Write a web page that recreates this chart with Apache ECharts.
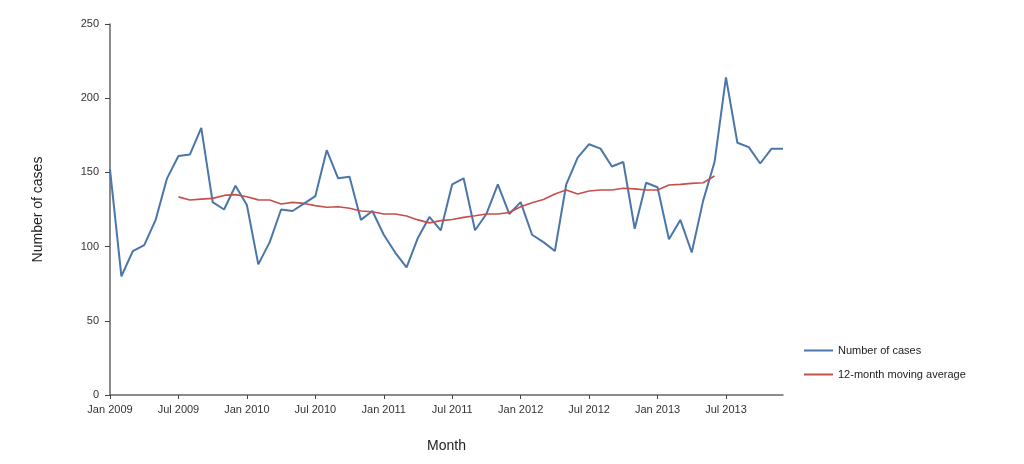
<!DOCTYPE html>
<html>
<head>
<meta charset="utf-8">
<script src="https://cdn.jsdelivr.net/npm/echarts@6/dist/echarts.min.js"></script>
<style>html,body{margin:0;padding:0;background:#fff;}#c{width:1024px;height:464px;}</style>
</head>
<body>
<div id="c"></div>
<script>
const monthNames = ['Jan','Feb','Mar','Apr','May','Jun','Jul','Aug','Sep','Oct','Nov','Dec'];
const years = [2009, 2010, 2011, 2012, 2013];
const months = [];
years.forEach(y => monthNames.forEach(m => months.push(m + ' ' + y)));

const cases = [
  152, 80, 97, 101, 118, 146, 161, 162, 180, 130, 125, 141,
  128, 88, 103, 125, 124, 129, 134, 165, 146, 147, 118, 124,
  108, 96, 86, 106, 120, 111, 142, 146, 111, 122, 142, 122,
  130, 108, 103, 97, 142, 160, 169, 166, 154, 157, 112, 143,
  140, 105, 118, 96, 131, 157, 214, 170, 167, 156, 166, 166
];

const movingAvg = [
  null, null, null, null, null, null, 133.5, 131.4, 132, 132.5, 134.5, 135,
  133.6, 131.5, 131.4, 128.7, 129.8, 129.1, 127.6, 126.5, 126.9, 125.8, 124, 123.5,
  122, 122, 120.6, 118, 116, 117.5, 118.3, 119.7, 120.8, 122, 122, 123,
  126.9, 129.6, 131.8, 135.5, 138.1, 135.4, 137.5, 138.1, 138.1, 139.3, 138.9, 138.1,
  138.1, 141.5, 141.9, 142.6, 143, 147.6, null, null, null, null, null, null
];

const seriesNames = ['Number of cases', '12-month moving average'];
const font = 'Liberation Sans, Arial, sans-serif';

const chart = echarts.init(document.getElementById('c'), null, {renderer: 'canvas'});
chart.setOption({
  animation: false,
  backgroundColor: '#fff',
  grid: {left: 110, right: 241, top: 24, bottom: 69, containLabel: false},
  legend: {
    orient: 'vertical',
    left: 799,
    top: 340,
    itemGap: 13,
    itemWidth: 29,
    itemHeight: 2,
    icon: 'rect',
    textStyle: {fontFamily: font, fontSize: 11, color: '#222'},
    data: seriesNames
  },
  xAxis: {
    type: 'category',
    data: months,
    boundaryGap: false,
    name: 'Month',
    nameLocation: 'middle',
    nameGap: 44,
    nameTextStyle: {fontFamily: font, fontSize: 14, color: '#222'},
    axisLine: {lineStyle: {color: '#666', width: 1.5}},
    axisTick: {interval: 5, length: 4, lineStyle: {color: '#444'}},
    axisLabel: {interval: 5, fontFamily: font, fontSize: 11, color: '#333', margin: 9},
    splitLine: {show: false}
  },
  yAxis: {
    type: 'value',
    min: 0, max: 250, interval: 50,
    name: 'Number of cases',
    nameLocation: 'middle',
    nameGap: 65,
    nameRotate: 90,
    nameTextStyle: {fontFamily: font, fontSize: 14, color: '#222'},
    axisLine: {show: true, lineStyle: {color: '#666', width: 1.5}},
    axisTick: {show: true, length: 5, lineStyle: {color: '#444'}},
    axisLabel: {fontFamily: font, fontSize: 11, color: '#333', margin: 11},
    splitLine: {show: false}
  },
  series: [
    {
      name: seriesNames[0],
      type: 'line',
      data: cases,
      showSymbol: false,
      symbol: 'none',
      lineStyle: {color: '#4a76aa', width: 2},
      itemStyle: {color: '#4a76aa'}
    },
    {
      name: seriesNames[1],
      type: 'line',
      data: movingAvg,
      showSymbol: false,
      symbol: 'none',
      lineStyle: {color: '#c4504c', width: 1.6},
      itemStyle: {color: '#c4504c'}
    }
  ]
});
</script>
</body>
</html>
